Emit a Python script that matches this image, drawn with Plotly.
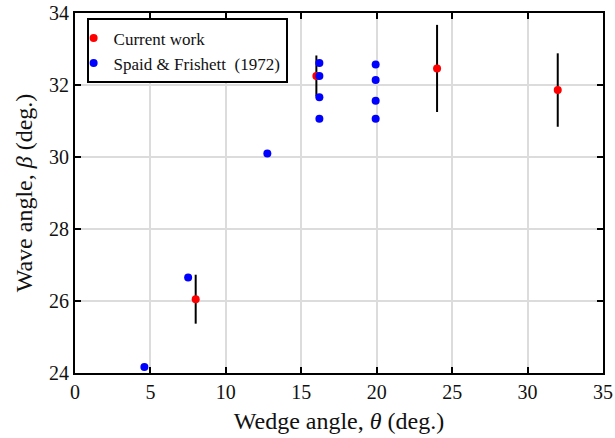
import plotly.graph_objects as go

# Current work
cw_theta = [8, 16, 24, 32]
cw_beta = [26.05, 32.25, 32.46, 31.86]
cw_err = [0.68, 0.57, 1.21, 1.02]

# Spaid & Frishett (1972)
sf_theta = [4.6, 7.5, 12.75, 16.2, 16.2, 16.2, 16.2, 19.93, 19.93, 19.93, 19.93]
sf_beta = [24.17, 26.65, 30.1, 32.61, 32.25, 31.66, 31.06, 32.57, 32.14, 31.56, 31.06]

x_ticks = [0, 5, 10, 15, 20, 25, 30, 35]
y_ticks = [24, 26, 28, 30, 32, 34]

font = "Liberation Serif, Times New Roman, serif"
txt = "#111"

fig = go.Figure()
fig.add_trace(go.Scatter(
    x=cw_theta, y=cw_beta, mode="markers", name="Current work",
    marker=dict(color="#ff0000", size=8),
    error_y=dict(type="data", array=cw_err, visible=True, color="black",
                 thickness=2, width=0),
))
fig.add_trace(go.Scatter(
    x=sf_theta, y=sf_beta, mode="markers", name="Spaid & Frishett  (1972)",
    marker=dict(color="#0000ff", size=8),
))

axis_common = dict(
    showline=True, linecolor="black", linewidth=2, mirror="ticks",
    ticks="inside", ticklen=6, tickwidth=2, tickcolor="black",
    showgrid=True, gridcolor="#dcdcdc", gridwidth=2, zeroline=False,
    tickfont=dict(family=font, size=20, color=txt),
    automargin=False,
)
fig.update_xaxes(range=[0, 35], tickvals=x_ticks,
                 title=dict(text="Wedge angle, <i>θ</i> (deg.)",
                            font=dict(family=font, size=24, color=txt), standoff=10),
                 **axis_common)
fig.update_yaxes(range=[24, 34], tickvals=y_ticks,
                 title=dict(text="Wave angle, <i>β</i> (deg.)",
                            font=dict(family=font, size=24, color=txt), standoff=10),
                 **axis_common)

fig.update_layout(
    width=615, height=438,
    margin=dict(l=75, r=12, t=13, b=65),
    plot_bgcolor="white", paper_bgcolor="white",
    font=dict(family=font, color=txt),
    showlegend=True,
    legend=dict(x=0.022, y=0.985, xanchor="left", yanchor="top",
                bordercolor="black", borderwidth=2, bgcolor="white",
                font=dict(family=font, size=17, color=txt),
                itemsizing="trace", itemwidth=30, tracegroupgap=0,
                indentation=-15),
)

fig.write_html("out.html")
